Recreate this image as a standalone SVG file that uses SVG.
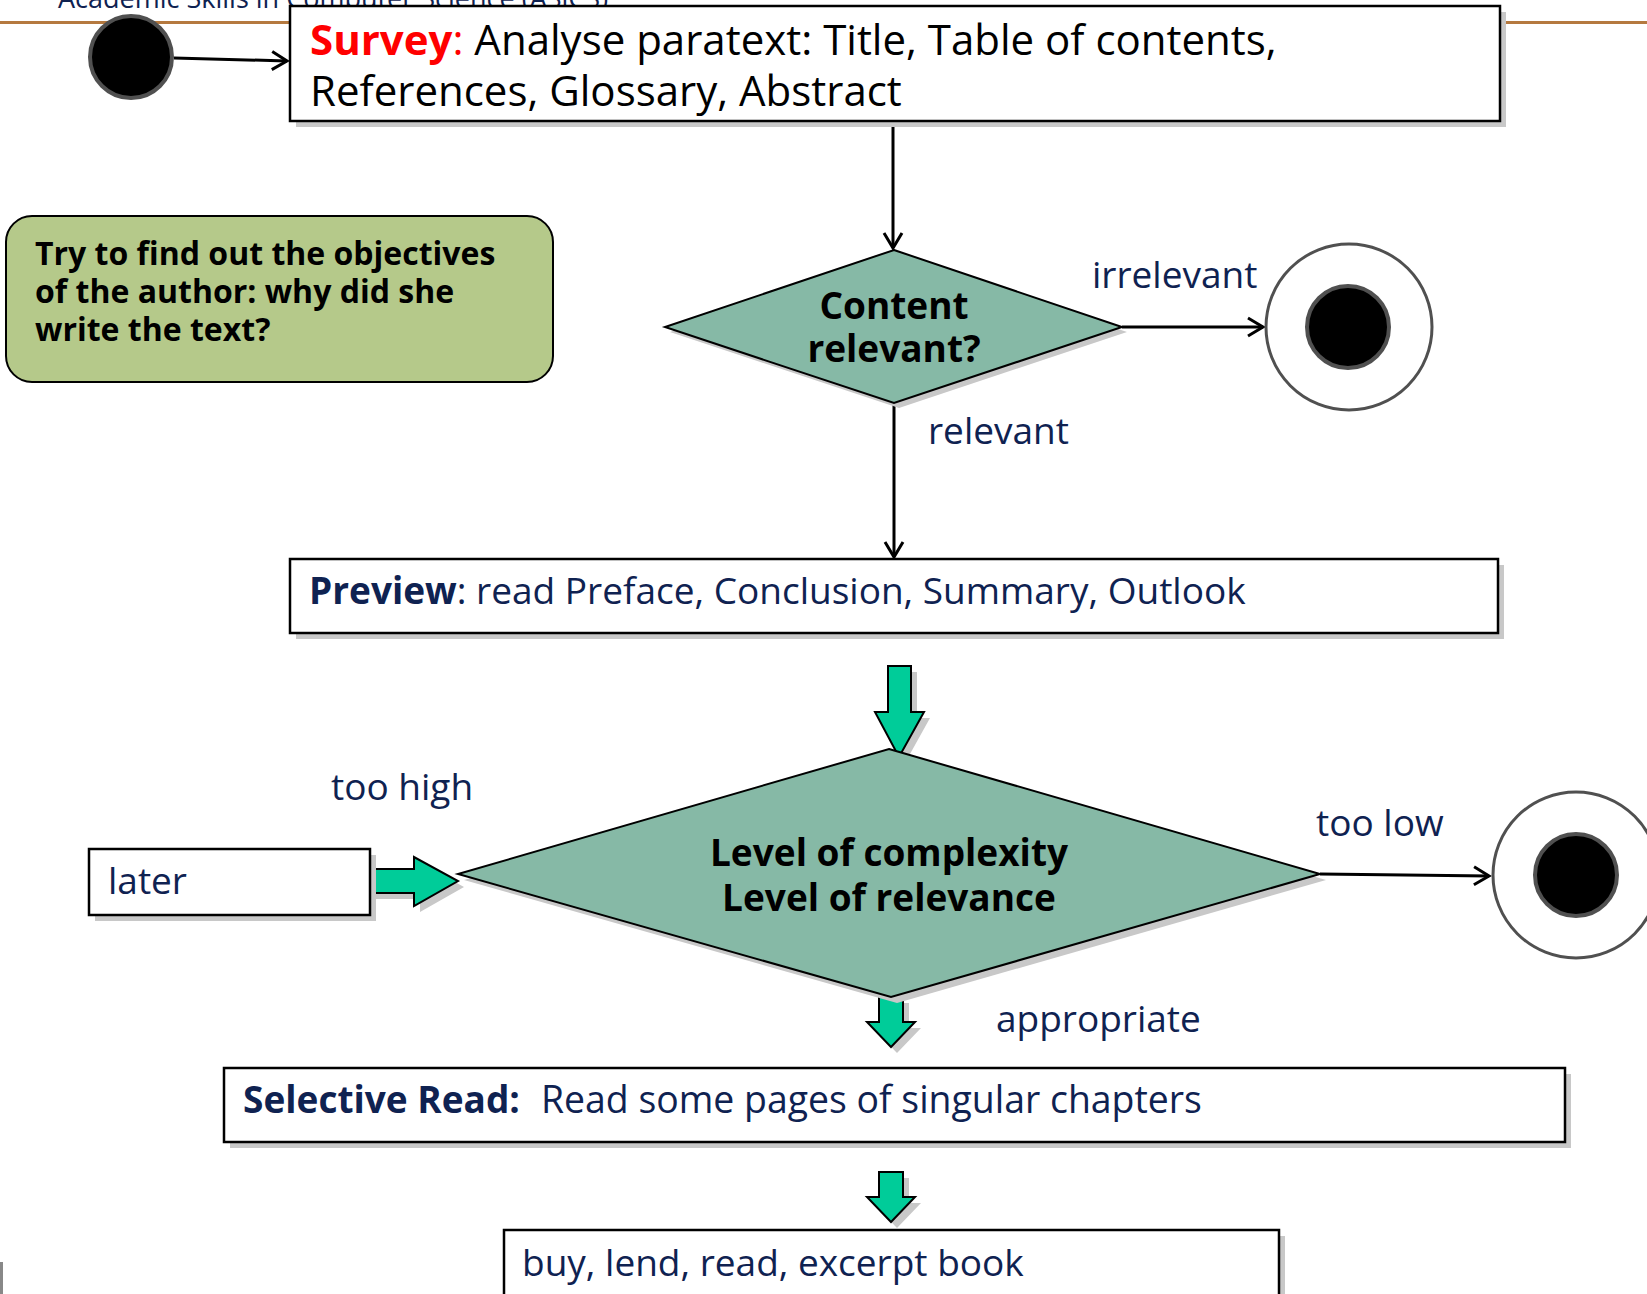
<svg xmlns="http://www.w3.org/2000/svg" width="1647" height="1294" viewBox="0 0 1647 1294">
  <defs>
    <style>
      .box{fill:#ffffff;stroke:#000000;stroke-width:2.5}
      .shadow{fill:#c8c8c8;stroke:none}
      .dec{fill:#86b9a6;stroke:#000000;stroke-width:2}
      .note{fill:#b5c98a;stroke:#000000;stroke-width:2}
      .flow{fill:#00cc99;stroke:#000000;stroke-width:2}
      .edge{fill:none;stroke:#000000;stroke-width:3}
      .ring{fill:#ffffff;stroke:#505050;stroke-width:3}
      .dot{fill:#000000;stroke:#505050;stroke-width:4}
      .txt{font-family:"Open Sans","Noto Sans",sans-serif;font-size:37px}
      .navy{fill:#0f2251}
      .blk{fill:#000000}
      .b{font-weight:700}
    </style>
    <marker id="open" markerUnits="userSpaceOnUse" viewBox="0 0 20 22" markerWidth="20" markerHeight="22" refX="17" refY="11" orient="auto">
      <path d="M2,2 L17,11 L2,20" fill="none" stroke="#000000" stroke-width="3"/>
    </marker>
  </defs>

  <!-- slide header -->
  <text class="txt navy" x="58" y="8" style="font-size:27px">Academic Skills in Computer Science (ASiCS)</text>
  <line x1="0" y1="22.5" x2="1647" y2="22.5" stroke="#b5793f" stroke-width="3"/>
  <rect x="0" y="1262" width="3" height="32" fill="#888888"/>

  <!-- connectors -->
  <g id="connectors">
    <line class="edge" x1="174" y1="58" x2="287" y2="61" marker-end="url(#open)"/>
    <line class="edge" x1="893" y1="121" x2="893" y2="248" marker-end="url(#open)"/>
    <line class="edge" x1="1122" y1="327" x2="1263" y2="327" marker-end="url(#open)"/>
    <line class="edge" x1="894" y1="403" x2="894" y2="557" marker-end="url(#open)"/>
    <line class="edge" x1="1320" y1="874" x2="1489" y2="876" marker-end="url(#open)"/>
    <text class="txt navy" x="1092" y="288">irrelevant</text>
    <text class="txt navy" x="928" y="444">relevant</text>
    <text class="txt navy" x="331" y="800">too high</text>
    <text class="txt navy" x="1316" y="836">too low</text>
    <text class="txt navy" x="996" y="1032">appropriate</text>
  </g>

  <!-- block arrows -->
  <g id="flow-preview">
    <polygon class="shadow" points="894,672 917,672 917,718 930,718 905,763 881,718 894,718"/>
    <polygon class="flow" points="888,666 911,666 911,712 924,712 899,757 875,712 888,712"/>
  </g>
  <g id="flow-later">
    <polygon class="shadow" points="376,875 420,875 420,863 464,887 420,912 420,899 376,899"/>
    <polygon class="flow" points="370,869 414,869 414,857 458,881 414,906 414,893 370,893"/>
  </g>
  <g id="flow-appropriate">
    <polygon class="shadow" points="885,1003 909,1003 909,1028 921,1028 897,1053 873,1028 885,1028"/>
    <polygon class="flow" points="879,997 903,997 903,1022 915,1022 891,1047 867,1022 879,1022"/>
  </g>
  <g id="flow-buy">
    <polygon class="shadow" points="885,1178 909,1178 909,1203 921,1203 897,1228 873,1203 885,1203"/>
    <polygon class="flow" points="879,1172 903,1172 903,1197 915,1197 891,1222 867,1197 879,1197"/>
  </g>

  <!-- start node -->
  <g id="start">
    <circle class="dot" cx="131" cy="57" r="41"/>
  </g>

  <!-- survey -->
  <g id="survey">
    <rect class="shadow" x="296" y="12" width="1210" height="115"/>
    <rect class="box" x="290" y="6" width="1210" height="115"/>
    <text class="txt" x="310" y="55" style="font-size:42px"><tspan class="b" fill="#ff0000">Survey</tspan><tspan fill="#ff0000">:</tspan><tspan fill="#000000"> Analyse paratext: Title, Table of contents,</tspan></text>
    <text class="txt blk" x="310" y="106" style="font-size:42px">References, Glossary, Abstract</text>
  </g>

  <!-- note -->
  <g id="note">
    <rect class="note" x="6" y="216" width="547" height="166" rx="26" ry="26"/>
    <text class="txt blk b" x="35" y="265" style="font-size:32px">Try to find out the objectives</text>
    <text class="txt blk b" x="35" y="303" style="font-size:32px">of the author: why did she</text>
    <text class="txt blk b" x="35" y="341" style="font-size:32px">write the text?</text>
  </g>

  <!-- decision: content relevant -->
  <g id="decision-content">
    <polygon class="shadow" points="899,255 1127,332 899,408 670,332"/>
    <polygon class="dec" points="894,250 1122,327 894,403 665,327"/>
    <text class="txt blk b" x="894" y="319" text-anchor="middle">Content</text>
    <text class="txt blk b" x="894" y="362" text-anchor="middle">relevant?</text>
  </g>

  <!-- final node 1 -->
  <g id="end-irrelevant">
    <circle class="ring" cx="1349" cy="327" r="83"/>
    <circle class="dot" cx="1348" cy="327" r="41"/>
  </g>

  <!-- preview -->
  <g id="preview">
    <rect class="shadow" x="296" y="565" width="1208" height="74"/>
    <rect class="box" x="290" y="559" width="1208" height="74"/>
    <text class="txt navy" x="309" y="604"><tspan class="b">Preview</tspan>: read Preface, Conclusion, Summary, Outlook</text>
  </g>

  <!-- decision: complexity / relevance -->
  <g id="decision-level">
    <polygon class="shadow" points="895,755 1326,880 897,1003 464,880"/>
    <polygon class="dec" points="889,749 1320,874 891,997 458,874"/>
    <text class="txt blk b" x="889" y="866" text-anchor="middle">Level of complexity</text>
    <text class="txt blk b" x="889" y="911" text-anchor="middle">Level of relevance</text>
  </g>

  <!-- later -->
  <g id="later">
    <rect class="shadow" x="95" y="855" width="281" height="66"/>
    <rect class="box" x="89" y="849" width="281" height="66"/>
    <text class="txt navy" x="108" y="894">later</text>
  </g>

  <!-- final node 2 -->
  <g id="end-too-low">
    <circle class="ring" cx="1576" cy="875" r="83"/>
    <circle class="dot" cx="1576" cy="875" r="41"/>
  </g>

  <!-- selective read -->
  <g id="selective-read">
    <rect class="shadow" x="230" y="1074" width="1341" height="74"/>
    <rect class="box" x="224" y="1068" width="1341" height="74"/>
    <text class="txt navy" x="243" y="1113"><tspan class="b">Selective Read:</tspan><tspan x="541" style="font-size:37.4px">Read some pages of singular chapters</tspan></text>
  </g>

  <!-- buy / lend -->
  <g id="acquire">
    <rect class="shadow" x="510" y="1236" width="775" height="80"/>
    <rect class="box" x="504" y="1230" width="775" height="80"/>
    <text class="txt navy" x="522" y="1276">buy, lend, read, excerpt book</text>
  </g>
</svg>
